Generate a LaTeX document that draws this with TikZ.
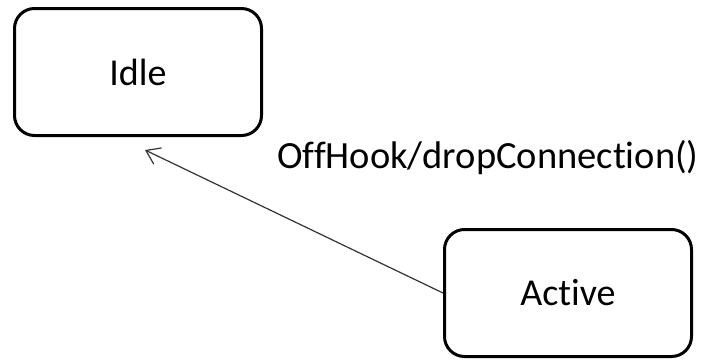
\documentclass[tikz,border=0pt]{standalone}
\usepackage{fontspec}
\setmainfont{Carlito}[Ligatures=NoCommon]
\usetikzlibrary{arrows.meta}
\begin{document}
\begin{tikzpicture}[x=1pt,y=-1pt,
  state/.style={draw=black, line width=3pt, rounded corners=20pt, fill=white,
    minimum width=247pt, minimum height=127pt, inner sep=0pt,
    font=\fontsize{38}{44}\selectfont},
  trans/.style={draw=black!80, line width=1.2pt,
    -{Straight Barb[length=13pt, width=18pt, line width=1.2pt]}},
  lbl/.style={font=\fontsize{38.5}{44}\selectfont, inner sep=0pt}]
  \useasboundingbox (0,0) rectangle (722,362);
  % states
  \node[state] (idle) at (138,72) {Idle};
  \node[state] (active) at (568,293) {Active};
  % transition end point below the Idle state
  \coordinate (tip) at (145,150);
  \draw[trans] (active.west) -- (tip);
  % transition label
  \node[lbl, anchor=base west] (event) at (277,168) {OffHook/dropConnection()};
\end{tikzpicture}
\end{document}
